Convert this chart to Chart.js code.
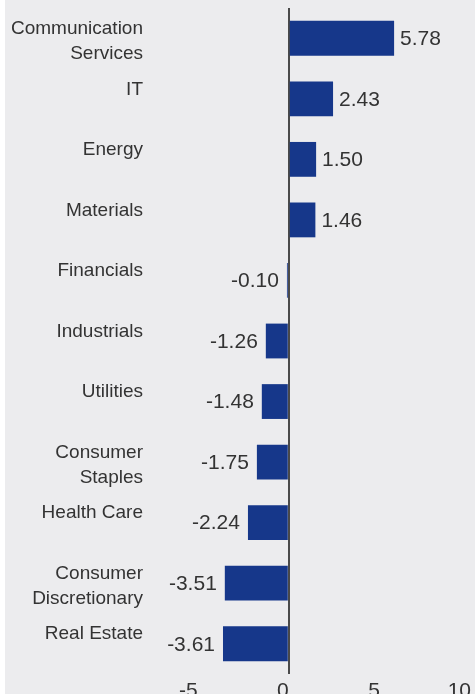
<!DOCTYPE html>
<html>
<head>
<meta charset="utf-8">
<script src="https://cdn.jsdelivr.net/npm/chart.js@4.4.1/dist/chart.umd.min.js"></script>
<style>
    html, body { margin: 0; padding: 0; background: #ffffff; }
    #wrap { width: 475px; height: 694px; position: relative; }
</style>
</head>
<body>
<div id="wrap"><canvas id="sectorChart"></canvas></div>
<script>
// Sector contributions (single-line names padded so they sit on the upper line)
const sectors = [
    ['Communication', 'Services'],
    ['IT', ''],
    ['Energy', ''],
    ['Materials', ''],
    ['Financials', ''],
    ['Industrials', ''],
    ['Utilities', ''],
    ['Consumer', 'Staples'],
    ['Health Care', ''],
    ['Consumer', 'Discretionary'],
    ['Real Estate', '']
];
const values = [5.78, 2.43, 1.50, 1.46, -0.10, -1.26, -1.48, -1.75, -2.24, -3.51, -3.61];
const xTicks = [-5, 0, 5, 10];

const FONT = '"Liberation Sans", Arial, sans-serif';
const TEXT = '#333333';
const BAR = '#16378a';

// Gray panel behind everything
const panelBg = {
    id: 'panelBg',
    beforeDraw(chart) {
        const { ctx, width, height } = chart;
        ctx.save();
        ctx.fillStyle = '#ececee';
        ctx.fillRect(5, 0, width - 5, height);
        ctx.restore();
    }
};

// Value labels next to each bar
const valueLabels = {
    id: 'valueLabels',
    afterDatasetsDraw(chart) {
        const { ctx } = chart;
        const meta = chart.getDatasetMeta(0);
        ctx.save();
        ctx.font = '21px ' + FONT;
        ctx.fillStyle = TEXT;
        ctx.textBaseline = 'middle';
        meta.data.forEach((bar, i) => {
            const v = values[i];
            if (v >= 0) {
                ctx.textAlign = 'left';
                ctx.fillText(v.toFixed(2), bar.x + 6, bar.y + 1);
            } else {
                ctx.textAlign = 'right';
                ctx.fillText(v.toFixed(2), bar.x - 8, bar.y + 1);
            }
        });
        ctx.restore();
    }
};

const ctx = document.getElementById('sectorChart').getContext('2d');
new Chart(ctx, {
    type: 'bar',
    data: {
        labels: sectors,
        datasets: [{
            data: values,
            backgroundColor: BAR,
            barPercentage: 0.575,
            categoryPercentage: 1
        }]
    },
    options: {
        indexAxis: 'y',
        responsive: true,
        maintainAspectRatio: false,
        animation: false,
        layout: { padding: { top: 8, right: 4, left: 0, bottom: 0 } },
        plugins: {
            legend: { display: false },
            tooltip: { enabled: false }
        },
        scales: {
            x: {
                min: -8,
                max: 10,
                afterBuildTicks: axis => { axis.ticks = xTicks.map(v => ({ value: v })); },
                afterFit: axis => {
                    axis.height = 20;
                    axis.paddingLeft = 0;
                    axis.paddingRight = 0;
                },
                border: { display: false },
                grid: {
                    drawTicks: false,
                    lineWidth: 2,
                    color: c => (c.tick && c.tick.value === 0 ? '#4a4a4a' : 'transparent')
                },
                ticks: {
                    align: 'end',
                    padding: 5,
                    color: TEXT,
                    font: { family: FONT, size: 21 },
                    maxRotation: 0
                }
            },
            y: {
                afterFit: axis => {
                    axis.width = 143;
                    axis.paddingTop = 0;
                    axis.paddingBottom = 0;
                },
                border: { display: false },
                grid: { display: false, drawTicks: false },
                ticks: {
                    padding: 0,
                    labelOffset: 3,
                    color: TEXT,
                    font: { family: FONT, size: 19, lineHeight: 1.32 }
                }
            }
        }
    },
    plugins: [panelBg, valueLabels]
});
</script>
</body>
</html>
